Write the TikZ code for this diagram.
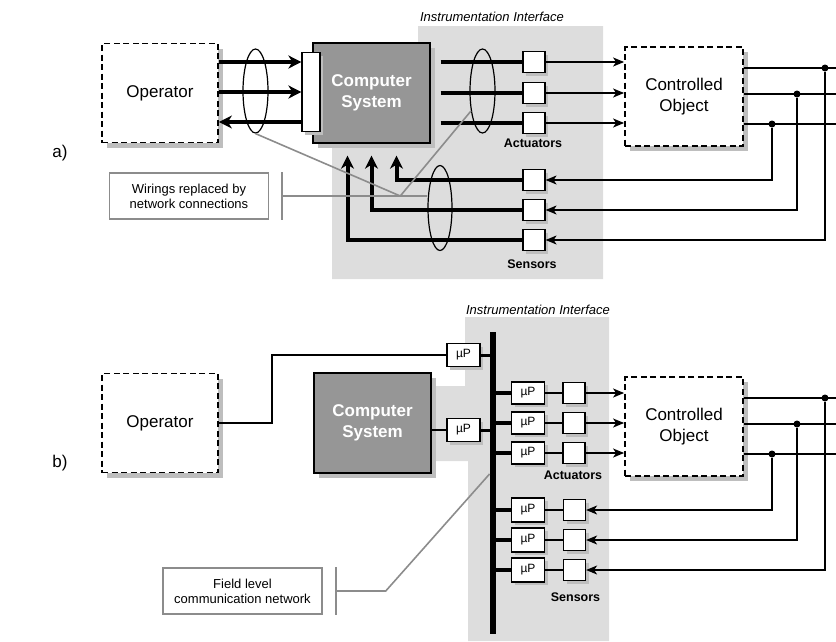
\documentclass[tikz,border=0pt]{standalone}
\usepackage{fontspec}
\setmainfont{Liberation Sans}
\usepackage{tikz}
\usetikzlibrary{positioning,arrows.meta,calc,shapes.geometric,shadows}
\definecolor{panel}{RGB}{221,221,221}
\definecolor{shade}{RGB}{190,190,190}
\definecolor{cpu}{RGB}{150,150,150}
\definecolor{lead}{RGB}{140,140,140}

\begin{document}
\begin{tikzpicture}[x=1pt, y=-1pt,
		font=\fontsize{17}{21}\selectfont,
		shd/.style={general shadow={fill=shade, shadow xshift=#1, shadow yshift=-#1}},
		objbox/.style={draw, dash pattern=on 6pt off 3.5pt, line width=1.8pt, fill=white,
				shd=5pt, minimum width=116pt, minimum height=99pt, align=center, inner sep=0pt},
		cpubox/.style={draw, line width=1.3pt, fill=cpu, shd=5pt, minimum width=117pt,
				minimum height=100pt, align=center, text=white,
				font=\fontsize{17}{21}\selectfont\bfseries},
		sq/.style={draw, line width=1.2pt, fill=white, shd=3pt, minimum width=22pt,
				minimum height=21pt, inner sep=0pt},
		upbox/.style={sq, minimum width=33pt, minimum height=23pt,
				font=\fontsize{12}{14}\selectfont},
		ring/.style={draw, ellipse, line width=1.2pt, inner sep=0pt,
				minimum width=25pt, minimum height=84pt},
		callout/.style={draw=lead, line width=1.5pt, fill=white, align=center,
				minimum width=159pt, minimum height=46pt, font=\fontsize{13}{15}\selectfont},
		tag/.style={font=\fontsize{12.5}{15}\selectfont\bfseries},
		ital/.style={font=\fontsize{13}{15}\selectfont\itshape},
		fatline/.style={line width=4pt},
		fat/.style={fatline, -{Stealth[length=13pt,width=13pt,inset=4pt]}},
		wire/.style={line width=1.4pt},
		arr/.style={wire, -{Stealth[length=11pt,width=9pt,inset=3pt]}},
		leader/.style={draw=lead, line width=1.6pt},
		dot/.style={circle, fill, inner sep=0pt, minimum size=7pt},
		bus/.style={fill, inner sep=0pt, minimum width=6.5pt, minimum height=302pt}
		]
		\useasboundingbox (0,0) rectangle (836,641);
		\coordinate (rim) at (836,0);
		% ---------------- a) point-to-point wiring ----------------
		\fill[panel] (418,26) -- (603,26) -- (603,279) -- (332,279) -- (332,120) -- (418,120) -- cycle;
		\node[ital] (iiA) at (492,17) {Instrumentation Interface};
		\node (la) at (60,153) {a)};
		\node[objbox] (opA) at (160,93) {Operator};
		\node[cpubox] (compA) at (371.5,93) {Computer\\System};
		\node[sq, minimum width=18pt, minimum height=79pt] (barA) at (311,92) {};
		\node[ring] (ringL) at (255.5,91) {};
		\node[ring] (ringR) at (482.5,91) {};
		\node[ring, minimum width=24pt, minimum height=85pt] (ringS) at (440,208) {};
		% actuators and sensors
		\node[sq] (actA1) at (534,62) {};
		\node[sq] (actA2) at (534,93) {};
		\node[sq] (actA3) at (534,123) {};
		\node[tag] (actlA) at (533,143) {Actuators};
		\node[sq] (senA1) at (534,180) {};
		\node[sq] (senA2) at (534,210) {};
		\node[sq] (senA3) at (534,240) {};
		\node[tag] (senlA) at (532,264) {Sensors};
		\node[objbox, minimum width=118pt] (objA) at (684,96.5) {Controlled\\Object};
		% operator wiring
		\draw[fat] ([yshift=30pt]barA.west -| opA.east) -- ([yshift=30pt]barA.west);
		\draw[fat] (barA.west -| opA.east) -- (barA.west);
		\draw[fat] ([yshift=-30pt]barA.west) -- ([yshift=-30pt]barA.west -| opA.east);
		% to actuators
		\draw[fatline] ([xshift=10pt]actA1.west -| compA.east) -- (actA1.west);
		\draw[fatline] ([xshift=10pt]actA2.west -| compA.east) -- (actA2.west);
		\draw[fatline] ([xshift=10pt]actA3.west -| compA.east) -- (actA3.west);
		\draw[arr] (actA1.east) -- (actA1.east -| objA.west);
		\draw[arr] (actA2.east) -- (actA2.east -| objA.west);
		\draw[arr] (actA3.east) -- (actA3.east -| objA.west);
		% from sensors
		\draw[fat] (senA1.west) -| ([xshift=25pt,yshift=-12pt]compA.south);
		\draw[fat] (senA2.west) -| ([yshift=-12pt]compA.south);
		\draw[fat] (senA3.west) -| ([xshift=-24pt,yshift=-12pt]compA.south);
		% object outputs
		\node[dot] (dA1) at (825,68) {};
		\node[dot] (dA2) at (797,94) {};
		\node[dot] (dA3) at (772,124) {};
		\draw[wire] (dA1 -| objA.east) -- (dA1 -| rim);
		\draw[wire] (dA2 -| objA.east) -- (dA2 -| rim);
		\draw[wire] (dA3 -| objA.east) -- (dA3 -| rim);
		\draw[arr] (dA1) |- (senA3.east);
		\draw[arr] (dA2) |- (senA2.east);
		\draw[arr] (dA3) |- (senA1.east);
		% callout
		\node[callout] (callA) at (189,196) {Wirings replaced by\\network connections};
		\draw[leader] ([xshift=13pt]callA.north east) -- ([xshift=13pt]callA.south east);
		\coordinate (jA) at ([xshift=131pt]callA.east);
		\draw[leader] ([xshift=13pt]callA.east) -- (jA) -- (ringS.west |- jA);
		\draw[leader] (ringL.south) -- (jA) -- (ringR.240);
		% ---------------- b) field bus ----------------
		\fill[panel] (465,317) -- (609,317) -- (609,641) -- (468,641) -- (468,461) -- (420,461)
		-- (420,386) -- (465,386) -- cycle;
		\node[ital] (iiB) at (538,310) {Instrumentation Interface};
		\node (lb) at (60,463) {b)};
		\node[objbox] (opB) at (160,423) {Operator};
		\node[cpubox] (compB) at (372.5,423) {Computer\\System};
		\node[bus] (bus) at (493,483) {};
		\node[upbox] (upO) at (463.5,355) {µP};
		\node[upbox] (upC) at (463.5,430) {µP};
		\draw[wire] (opB.east) -- ++(53pt,0) |- (upO.west);
		\draw[wire] (upC.west -| compB.east) -- (upC.west);
		\draw[line width=3pt] (upO.east) -- (upO.east -| bus.west);
		\draw[line width=3pt] (upC.east) -- (upC.east -| bus.west);
		% actuators
		\node[upbox, minimum height=22pt] (upA1) at (528,393) {µP};
		\node[upbox, minimum height=22pt] (upA2) at (528,423) {µP};
		\node[upbox, minimum height=22pt] (upA3) at (528,453) {µP};
		\node[sq] (actB1) at (574,393) {};
		\node[sq] (actB2) at (574,423) {};
		\node[sq] (actB3) at (574,453) {};
		\node[tag] (actlB) at (573,475) {Actuators};
		% sensors
		\node[upbox, minimum height=24pt] (upS1) at (528,510) {µP};
		\node[upbox, minimum height=24pt] (upS2) at (528,540) {µP};
		\node[upbox, minimum height=24pt] (upS3) at (528,570) {µP};
		\node[sq] (senB1) at (574.5,510) {};
		\node[sq] (senB2) at (574.5,540) {};
		\node[sq] (senB3) at (574.5,570) {};
		\node[tag] (senlB) at (575.5,597) {Sensors};
		\node[objbox, minimum width=118pt] (objB) at (684,426.5) {Controlled\\Object};
		% bus arms
		\draw[line width=4.5pt] (upA1.west -| bus.east) -- (upA1.west);
		\draw[line width=4.5pt] (upA2.west -| bus.east) -- (upA2.west);
		\draw[line width=4.5pt] (upA3.west -| bus.east) -- (upA3.west);
		\draw[line width=4.5pt] (upS1.west -| bus.east) -- (upS1.west);
		\draw[line width=4.5pt] (upS2.west -| bus.east) -- (upS2.west);
		\draw[line width=4.5pt] (upS3.west -| bus.east) -- (upS3.west);
		\draw[wire] (upA1) -- (actB1);
		\draw[wire] (upA2) -- (actB2);
		\draw[wire] (upA3) -- (actB3);
		\draw[wire] (upS1) -- (senB1);
		\draw[wire] (upS2) -- (senB2);
		\draw[wire] (upS3) -- (senB3);
		\draw[arr] (actB1.east) -- (actB1.east -| objB.west);
		\draw[arr] (actB2.east) -- (actB2.east -| objB.west);
		\draw[arr] (actB3.east) -- (actB3.east -| objB.west);
		% object outputs
		\node[dot] (dB1) at (825,398) {};
		\node[dot] (dB2) at (797,424) {};
		\node[dot] (dB3) at (772,454) {};
		\draw[wire] (dB1 -| objB.east) -- (dB1 -| rim);
		\draw[wire] (dB2 -| objB.east) -- (dB2 -| rim);
		\draw[wire] (dB3 -| objB.east) -- (dB3 -| rim);
		\draw[arr] (dB1) |- (senB3.east);
		\draw[arr] (dB2) |- (senB2.east);
		\draw[arr] (dB3) |- (senB1.east);
		% callout
		\node[callout] (callB) at (242.5,591) {Field level\\communication network};
		\draw[leader] ([xshift=13pt]callB.north east) -- ([xshift=13pt]callB.south east);
		\coordinate (jB) at ([xshift=63pt]callB.east);
		\draw[leader] ([xshift=13pt]callB.east) -- (jB) -- ([yshift=9pt]bus.west);
	\end{tikzpicture}
\end{document}
